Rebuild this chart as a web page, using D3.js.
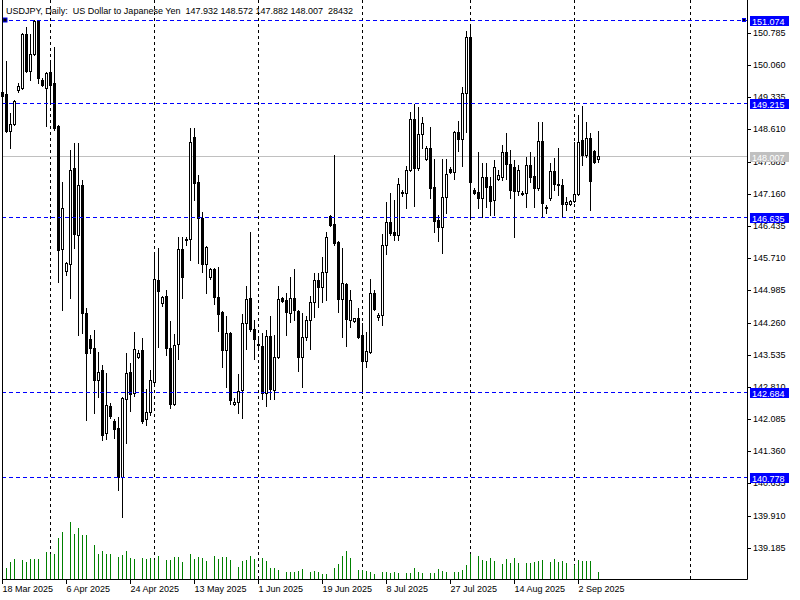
<!DOCTYPE html>
<html><head><meta charset="utf-8">
<script src="https://cdn.jsdelivr.net/npm/d3@7"></script>
<style>
body{margin:0;background:#fff}
text{font-family:"Liberation Sans",Arial,sans-serif;font-size:9px}
</style>
</head><body>
<svg id="c" width="800" height="600"></svg>
<script>
const titleText = "USDJPY, Daily:  US Dollar to Japanese Yen  147.932 148.572 147.882 148.007  28432";

const open = [
149.45,149.41,148.57,148.73,149.50,149.54,150.76,149.93,150.31,151.05,
149.72,149.54,149.90,149.66,148.69,145.92,145.42,145.58,147.74,146.23,
147.36,144.48,143.89,143.69,142.97,143.19,141.77,142.38,142.04,141.89,
140.78,142.54,143.15,142.67,143.49,143.64,142.09,142.25,142.92,145.22,
144.70,144.86,143.69,142.43,143.78,145.92,146.14,146.14,148.44,147.43,
146.61,145.58,145.29,145.47,144.84,144.50,143.64,144.03,142.43,142.47,
142.74,144.25,144.81,144.12,143.78,143.73,142.67,143.96,142.74,143.49,
144.81,144.77,144.48,144.81,144.52,143.49,143.94,144.32,144.72,145.22,
145.06,145.40,146.66,146.48,146.07,144.79,145.13,144.32,144.30,144.36,
143.98,143.40,143.60,144.93,144.39,144.43,146.01,146.52,146.30,146.23,
147.18,147.18,147.70,148.84,147.74,148.51,147.94,148.19,147.31,146.57,
146.41,147.09,147.72,147.65,148.55,148.39,149.43,150.69,147.25,147.20,
147.07,147.54,147.34,147.02,147.49,147.54,148.10,147.83,147.76,147.22,
147.18,147.18,147.81,147.56,147.29,148.35,146.84,147.07,147.67,147.38,
147.36,146.93,146.93,147.00,147.16,148.37,148.03,148.42,148.12,147.932
];
const high = [
149.54,150.15,148.98,149.27,149.655,150.78,150.92,150.76,151.074,151.03,
149.77,149.90,150.13,150.47,148.71,147.43,145.62,148.15,148.30,148.30,
147.47,144.59,143.98,144.09,143.60,143.30,143.13,142.45,142.09,142.13,
142.58,143.58,143.35,144.05,143.64,143.91,142.76,143.19,145.80,145.94,
144.86,144.99,144.30,144.00,146.19,146.19,146.19,148.64,148.64,147.58,
146.75,145.98,145.49,145.49,145.51,144.52,144.41,144.05,142.56,143.10,
144.45,145.08,146.30,144.32,143.91,144.03,144.09,144.41,143.98,145.08,
144.84,144.93,145.29,145.47,144.54,144.48,144.41,144.86,145.38,145.38,
145.74,146.30,146.68,148.03,146.10,145.94,145.15,144.99,144.36,144.59,
144.25,144.05,145.24,144.99,144.48,146.25,146.97,147.18,147.02,147.52,
147.25,147.79,149.00,149.18,149.11,148.89,148.24,148.66,147.94,146.68,
147.94,147.94,147.76,148.57,148.80,149.56,150.83,150.92,147.29,148.10,
147.85,147.85,147.54,147.92,147.70,148.26,148.53,148.15,147.92,147.81,
147.22,147.99,148.10,147.99,148.78,148.78,146.91,147.85,147.97,148.19,
147.49,147.09,147.02,148.33,148.93,149.14,148.78,148.53,148.15,148.572
];
const low = [
149.30,148.55,148.19,148.71,149.45,149.52,149.90,149.72,150.29,149.66,
149.59,148.69,149.20,148.60,145.17,144.54,145.33,144.81,145.94,143.98,
144.03,142.07,143.58,142.22,142.58,141.61,141.64,142.11,141.66,140.49,
139.88,141.55,142.27,142.61,143.46,142.00,141.95,142.18,142.90,143.71,
144.63,143.53,142.34,142.40,143.44,144.81,146.01,145.67,147.02,145.60,
145.40,144.93,145.24,144.68,144.07,143.26,142.81,142.43,142.40,142.22,
142.11,143.67,144.07,143.44,143.71,142.54,142.38,142.54,142.54,143.46,
144.72,143.98,144.27,144.32,143.17,142.81,143.87,143.67,144.39,144.61,
144.72,144.77,146.43,146.01,144.50,143.94,143.73,144.16,144.27,143.91,
142.67,143.26,143.58,144.54,144.32,144.21,145.80,146.23,146.12,146.12,
147.11,146.84,147.67,146.89,147.70,148.19,147.92,147.07,146.30,146.10,
145.83,146.73,147.63,147.49,148.12,147.79,148.55,146.59,147.16,146.84,
146.64,146.86,146.68,146.68,147.47,147.47,147.49,147.07,146.19,147.13,
147.13,146.86,147.43,146.86,147.25,146.64,146.73,147.02,147.25,147.13,
146.64,146.80,146.91,146.98,147.13,147.81,147.99,146.80,147.85,147.882
];
const close = [
149.36,148.57,148.73,149.25,149.59,150.76,149.93,150.31,151.05,149.77,
149.61,149.88,149.61,148.64,145.89,146.84,145.60,147.70,146.25,147.36,
144.48,143.58,143.69,142.97,143.15,141.73,142.40,142.16,141.86,140.78,
142.56,143.13,142.65,143.67,143.58,142.04,142.25,142.97,145.24,144.97,
144.84,143.69,142.43,143.76,145.92,145.29,146.12,148.33,147.40,146.61,
145.58,145.96,145.47,144.84,144.45,143.64,144.03,142.52,142.47,142.72,
144.25,144.79,144.12,143.89,143.76,142.67,143.96,142.77,143.49,144.79,
144.75,144.50,144.81,144.54,143.49,143.94,144.32,144.72,145.22,145.06,
145.40,146.19,146.46,146.05,144.79,145.15,144.34,144.77,144.36,143.94,
143.40,143.62,144.93,144.57,144.43,146.01,146.52,146.28,146.23,147.38,
147.20,147.70,148.84,147.74,148.51,148.76,148.19,147.29,146.55,146.41,
147.09,147.61,147.65,148.55,148.40,149.43,150.69,147.43,147.18,147.07,
147.54,147.31,147.00,147.76,147.58,148.10,147.83,147.25,147.22,147.70,
147.16,147.81,147.54,147.29,148.35,146.95,146.86,147.67,147.38,147.36,
146.93,146.98,147.00,147.16,148.33,148.03,148.42,147.45,147.87,148.007
];
const volume = [
44000,44000,67400,79100,0,75200,67400,79100,79100,79100,
0,106300,98500,98500,160900,184200,0,222000,176400,199800,
172500,172500,0,133600,98500,110200,98500,98500,0,86900,
94600,110200,83000,79100,0,83000,79100,83000,75200,90800,
0,75200,75200,86900,86900,67400,0,98500,79100,85700,
83000,71300,0,90800,79100,86900,86900,75200,0,47900,
71300,75200,90800,79100,0,83000,71300,44000,44000,36200,
0,28400,28400,28400,32300,40100,0,28400,32300,28400,
20600,20600,0,44000,59600,90800,110200,83000,0,36200,
36200,32300,28400,20600,0,28400,28400,24500,28400,24500,
0,24500,24500,44000,28400,24500,0,24500,24500,40100,
32300,28400,0,28400,28400,36200,55700,98500,0,90800,
75200,71300,83000,71300,0,59600,79100,63500,83000,63500,
0,63500,63500,67400,71300,75200,0,67400,79100,67400,
71300,63500,0,55700,75200,71300,71300,71300,0,28432
];

const dateLabels = ["18 Mar 2025","6 Apr 2025","24 Apr 2025","13 May 2025","1 Jun 2025","19 Jun 2025","8 Jul 2025","27 Jul 2025","14 Aug 2025","2 Sep 2025"];
const dateLabelBars = [0,16,32,48,64,80,96,112,128,144];
const monthStartBars = [12,38,64,90,117,143,172];
const priceTicks = [150.785,150.060,149.335,148.610,147.885,147.160,146.435,145.710,144.985,144.260,143.535,142.810,142.085,141.360,140.635,139.910,139.185];
const levels = [151.074,149.215,146.635,142.684,140.778];
const bidPrice = 148.007;

const svg = d3.select("#c");
const L = 2, R = 747, B = 579, T = 0;

const x = d3.scaleLinear().domain([0, 1]).range([2, 6]);
const y = d3.scaleLinear().domain([151.074, 139.185]).range([20, 547.8]);
const yr = y.copy().interpolate(d3.interpolateRound);
const v = d3.scaleLinear().domain([0, d3.max(volume)]).range([B, 522]);
const fmt = d3.format(".3f");

svg.append("rect").attr("width", 800).attr("height", 600).attr("fill", "#fff");

// vertical grid at month starts
svg.append("g").selectAll("line").data(monthStartBars).join("line")
  .attr("x1", d => x(d) + 0.5).attr("x2", d => x(d) + 0.5)
  .attr("y1", T).attr("y2", B)
  .attr("stroke", "#000").attr("stroke-dasharray", "3,3");

// bid line
svg.append("line").attr("x1", L).attr("x2", R)
  .attr("y1", yr(bidPrice) + 0.5).attr("y2", yr(bidPrice) + 0.5)
  .attr("stroke", "#c0c0c0");

// volumes
const idx = d3.range(open.length);
svg.append("g").selectAll("rect").data(idx.filter(i => volume[i] > 0)).join("rect")
  .attr("x", i => x(i)).attr("width", 1)
  .attr("y", i => Math.round(v(volume[i])))
  .attr("height", i => B - Math.round(v(volume[i])))
  .attr("fill", "#008000");

// candles
const cg = svg.append("g");
idx.forEach(i => {
  const cx = x(i);
  const yH = Math.round(y(high[i])), yL = Math.round(y(low[i]));
  const yO = Math.round(y(open[i])), yC = Math.round(y(close[i]));
  cg.append("rect").attr("x", cx).attr("width", 1)
    .attr("y", yH).attr("height", Math.max(1, yL - yH + 1)).attr("fill", "#000");
  const top = Math.min(yO, yC), bot = Math.max(yO, yC);
  if (close[i] < open[i]) {
    cg.append("rect").attr("x", cx - 1).attr("width", 3)
      .attr("y", top).attr("height", bot - top + 1).attr("fill", "#000");
  } else if (bot - top >= 2) {
    cg.append("rect").attr("x", cx - 0.5).attr("width", 2)
      .attr("y", top + 0.5).attr("height", bot - top)
      .attr("fill", "#fff").attr("stroke", "#000").attr("stroke-width", 1);
  } else {
    cg.append("rect").attr("x", cx - 1).attr("width", 3)
      .attr("y", top).attr("height", bot - top + 1).attr("fill", "#000");
  }
});

// horizontal levels
svg.append("g").selectAll("line").data(levels).join("line")
  .attr("x1", L).attr("x2", R)
  .attr("y1", d => yr(d) + 0.5).attr("y2", d => yr(d) + 0.5)
  .attr("stroke", "#0000ff").attr("stroke-dasharray", "4,3");
// anchors of the top level
svg.append("rect").attr("x", 3).attr("y", yr(levels[0]) - 2).attr("width", 4).attr("height", 4)
  .attr("fill", "#000").attr("stroke", "#0000ff").attr("stroke-width", 1);
svg.append("rect").attr("x", 742.5).attr("y", yr(levels[0]) - 1.5).attr("width", 3).attr("height", 3)
  .attr("fill", "#000").attr("stroke", "#0000ff").attr("stroke-width", 1);

// frame
svg.append("path").attr("d", `M${L + 0.5},${T}V${B + 0.5}H${R + 0.5}V${T}`)
  .attr("fill", "none").attr("stroke", "#000");

// price axis
const ay = svg.append("g").attr("transform", `translate(${R},0)`)
  .call(d3.axisRight(yr).tickValues(priceTicks).tickFormat(fmt).tickSize(4).tickPadding(2).tickSizeOuter(0));
ay.select(".domain").remove();
ay.selectAll("text").attr("font-family", "Liberation Sans, Arial, sans-serif").attr("font-size", 9).attr("fill", "#000");

// time axis
const ax = svg.append("g").attr("transform", `translate(0,${B})`)
  .call(d3.axisBottom(x).tickValues(dateLabelBars).tickFormat((d, i) => dateLabels[i]).tickSize(5).tickPadding(2).tickSizeOuter(0));
ax.select(".domain").remove();
ax.selectAll("text").attr("text-anchor", "start").attr("x", 0)
  .attr("font-family", "Liberation Sans, Arial, sans-serif").attr("font-size", 9).attr("fill", "#000");

// level labels
const lab = svg.append("g");
levels.forEach(p => {
  const yy = yr(p);
  lab.append("rect").attr("x", 750).attr("y", yy - 4).attr("width", 39).attr("height", 10).attr("fill", "#0000ff");
  lab.append("text").attr("x", 752).attr("y", yy + 4.5).attr("fill", "#fff").text(fmt(p));
});
{
  const yy = yr(bidPrice);
  lab.append("rect").attr("x", 750).attr("y", yy - 4).attr("width", 39).attr("height", 10).attr("fill", "#c0c0c0");
  lab.append("text").attr("x", 752).attr("y", yy + 4.5).attr("fill", "#fff").text(fmt(bidPrice));
}

// title
svg.append("text").attr("x", 6).attr("y", 14).attr("fill", "#000").attr("font-size", 9.4)
  .style("white-space", "pre").text(titleText);
</script>
</body></html>
